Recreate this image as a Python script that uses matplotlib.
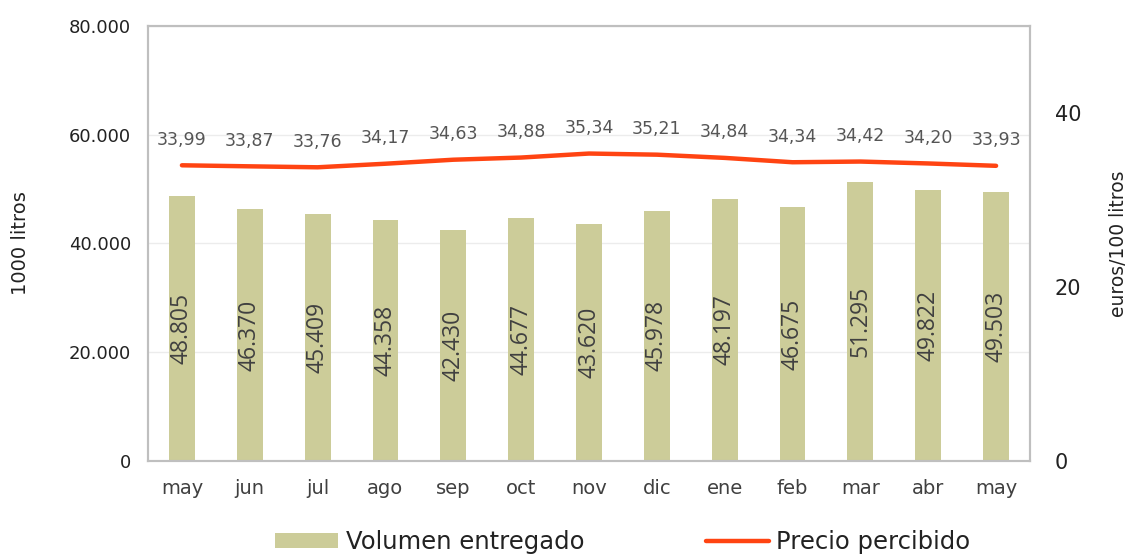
import matplotlib.pyplot as plt
import numpy as np

meses = ['may', 'jun', 'jul', 'ago', 'sep', 'oct', 'nov', 'dic', 'ene', 'feb', 'mar', 'abr', 'may']
volumen = [48805, 46370, 45409, 44358, 42430, 44677, 43620, 45978, 48197, 46675, 51295, 49822, 49503]
precio = [33.99, 33.87, 33.76, 34.17, 34.63, 34.88, 35.34, 35.21, 34.84, 34.34, 34.42, 34.20, 33.93]

plt.rcParams['font.family'] = ['DejaVu Sans']
gris = '#404040'

fig = plt.figure(figsize=(11.32, 5.54), dpi=100)
ax = fig.add_axes([148/1132, 1 - 461/554, (1030-148)/1132, (461-26)/554])
ax2 = ax.twinx()

x = np.arange(len(meses))
bars = ax.bar(x, volumen, width=0.38, color='#cccc99', label='Volumen entregado', zorder=2)
for xi, v in zip(x, volumen):
    ax.text(xi, v / 2, f'{v/1000:.3f}', rotation=90, ha='center', va='center',
            fontsize=16.5, color=gris, family='Open Sans')

ax.set_ylim(0, 80000)
ax.set_xlim(-0.5, len(meses) - 0.5)
ax.set_yticks([0, 20000, 40000, 60000, 80000])
ax.set_yticklabels(['0', '20.000', '40.000', '60.000', '80.000'])
ax.yaxis.grid(True, color='#ececec', lw=1, zorder=0)
ax.set_axisbelow(True)
ax.set_xticks(x)
ax.set_xticklabels(meses)
ax.tick_params(axis='x', length=0, pad=13, labelsize=14, labelcolor=gris)
ax.tick_params(axis='y', length=0, pad=12, labelsize=13, labelcolor='#222222')
ax.set_ylabel('1000 litros', fontsize=14, color='#222222', labelpad=28)

line, = ax2.plot(x, precio, color='#ff4412', lw=3.2, solid_capstyle='round',
                 label='Precio percibido', zorder=3)
for xi, p in zip(x, precio):
    ax2.annotate(f'{p:.2f}'.replace('.', ','), (xi, p), xytext=(0, 12),
                 textcoords='offset points', ha='center', va='bottom',
                 fontsize=12.5, color='#555555')
ax2.set_ylim(0, 50)
ax2.set_yticks([0, 20, 40])
ax2.tick_params(axis='y', length=0, pad=18, labelsize=15, labelcolor='#222222')
ax2.set_ylabel('euros/100 litros', fontsize=13.5, color='#222222', labelpad=20)

for a in (ax, ax2):
    for s in a.spines.values():
        s.set_color('#bfbfbf')
        s.set_linewidth(1.5)

fig.legend([bars, line], ['Volumen entregado', 'Precio percibido'], loc='lower center',
           bbox_to_anchor=(0.55, -0.04), ncol=2, frameon=False, fontsize=17.5,
           handlelength=2.6, handleheight=0.6, columnspacing=5.0, handletextpad=0.3,
           labelcolor='#222222')

fig.savefig('out.png', dpi=100)
